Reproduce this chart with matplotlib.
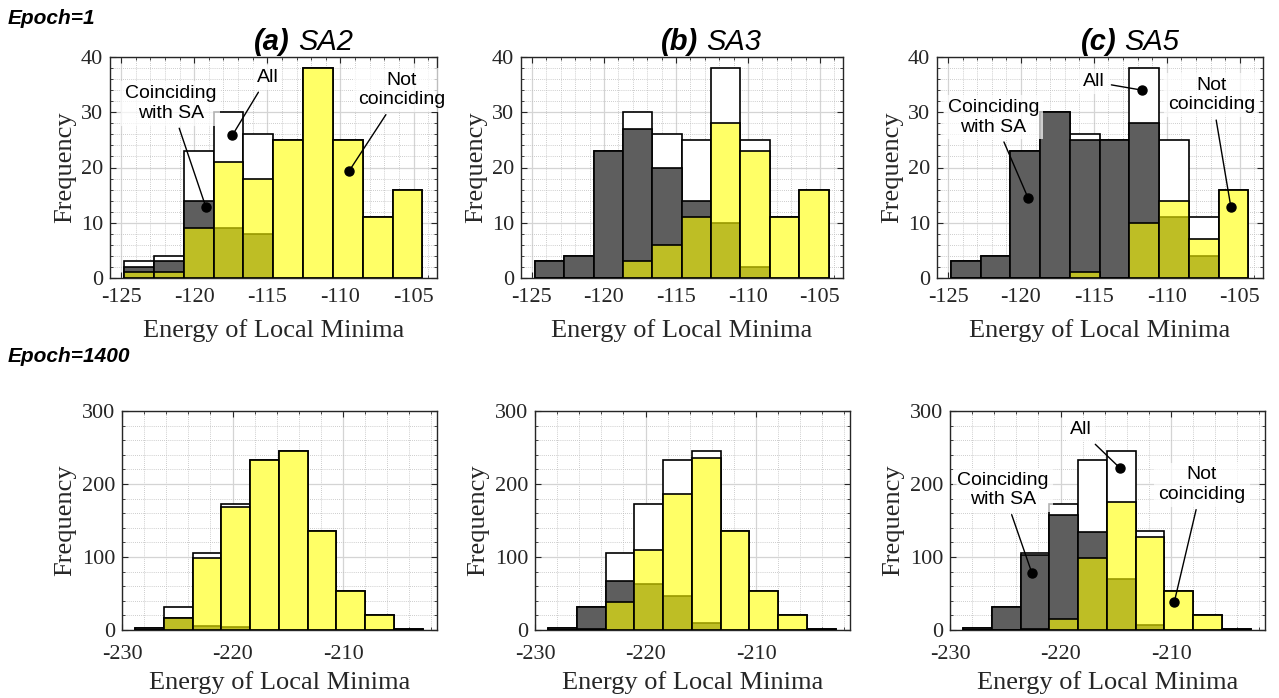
import numpy as np
import matplotlib.pyplot as plt
from matplotlib.ticker import MultipleLocator

plt.rcParams['axes.unicode_minus'] = False

# bin edges of the two epochs
edges_e1 = [-124.8, -122.76, -120.72, -118.68, -116.64, -114.6, -112.56, -110.52, -108.48, -106.44, -104.4]
edges_e1400 = [-228.8, -226.2, -223.6, -221.0, -218.4, -215.8, -213.2, -210.6, -208.0, -205.4, -202.8]

# Epoch=1 : all local minima, coinciding with SA, not coinciding
all_e1 = [3, 4, 23, 30, 26, 25, 38, 25, 11, 16]
coin_e1_sa2 = [2, 3, 14, 9, 8, 0, 0, 0, 0, 0]
not_e1_sa2 = [1, 1, 9, 21, 18, 25, 38, 25, 11, 16]
coin_e1_sa3 = [3, 4, 23, 27, 20, 14, 10, 2, 0, 0]
not_e1_sa3 = [0, 0, 0, 3, 6, 11, 28, 23, 11, 16]
coin_e1_sa5 = [3, 4, 23, 30, 25, 25, 28, 11, 4, 0]
not_e1_sa5 = [0, 0, 0, 0, 1, 0, 10, 14, 7, 16]

# Epoch=1400
all_e1400 = [3, 32, 105, 172, 233, 245, 135, 54, 21, 2]
coin_e1400_sa2 = [3, 16, 6, 4, 0, 0, 0, 0, 0, 0]
not_e1400_sa2 = [0, 16, 99, 168, 233, 245, 135, 54, 21, 2]
coin_e1400_sa3 = [3, 31, 67, 63, 47, 10, 0, 0, 0, 0]
not_e1400_sa3 = [0, 1, 38, 109, 186, 235, 135, 54, 21, 2]
coin_e1400_sa5 = [3, 32, 103, 157, 134, 70, 7, 0, 0, 0]
not_e1400_sa5 = [0, 0, 2, 15, 99, 175, 128, 54, 21, 2]

panel_tags = ['(a)', '(b)', '(c)']
panel_names = ['SA2', 'SA3', 'SA5']

SERIF = 'Liberation Serif'
SANS = 'Liberation Sans'

fig = plt.figure(figsize=(12.79, 6.98), dpi=100)
W, H = 1279, 698


def add_ax(l, t, w, h):
    return fig.add_axes([l / W, 1 - (t + h) / H, w / W, h / H])


def hist3(ax, edges, total, coin, notc):
    edges = np.array(edges)
    left = edges[:-1]
    w = np.diff(edges)
    ax.bar(left, total, width=w, align='edge', color='white', edgecolor='black', lw=1.2, zorder=2)
    ax.bar(left, coin, width=w, align='edge', color='#5e5e5e', edgecolor='black', lw=1.2, zorder=3)
    ax.bar(left, notc, width=w, align='edge', color=(1, 1, 0, 0.6), edgecolor='black', lw=1.2, zorder=4)


def style(ax, xlim, ylim, xmaj, xmin, ymaj, ymin, xpad, xlpad, ylpad):
    ax.set_xlim(*xlim)
    ax.set_ylim(*ylim)
    ax.xaxis.set_major_locator(MultipleLocator(xmaj))
    ax.xaxis.set_minor_locator(MultipleLocator(xmin))
    ax.yaxis.set_major_locator(MultipleLocator(ymaj))
    ax.yaxis.set_minor_locator(MultipleLocator(ymin))
    ax.set_axisbelow(True)
    ax.grid(True, which='major', color='#d4d4d4', lw=0.9, ls='-')
    ax.grid(True, which='minor', color='#bdbdbd', lw=0.6, ls=(0, (1, 1.5)))
    ax.tick_params(which='both', direction='in', top=True, right=True, colors='#262626',
                   labelsize=16)
    ax.tick_params(which='major', length=4, pad=5)
    ax.tick_params(axis='x', which='major', pad=xpad)
    ax.tick_params(which='minor', length=2)
    for lab in ax.get_xticklabels() + ax.get_yticklabels():
        lab.set_family(SERIF)
    for s in ax.spines.values():
        s.set_color('#262626')
        s.set_linewidth(1.0)
    ax.set_xlabel('Energy of Local Minima', family=SERIF, fontsize=19, color='#262626',
                  labelpad=xlpad)
    ax.set_ylabel('Frequency', family=SERIF, fontsize=19, color='#262626', labelpad=ylpad)


def note(ax, text, xy, xytext):
    ax.annotate(text, xy=xy, xytext=xytext, ha='center', va='center', fontsize=14,
                family=SANS, zorder=6,
                bbox=dict(boxstyle='square,pad=0.2', fc='white', ec='none', alpha=0.7),
                arrowprops=dict(arrowstyle='-', color='black', lw=1.0, shrinkA=2, shrinkB=0))
    ax.plot(xy[0], xy[1], 'o', color='black', ms=6.5, zorder=7)


top_lefts = [110, 521, 937]
top_widths = [327, 322, 326]
bot_lefts = [122, 535, 950]

coin_e1 = [coin_e1_sa2, coin_e1_sa3, coin_e1_sa5]
not_e1 = [not_e1_sa2, not_e1_sa3, not_e1_sa5]
coin_e1400 = [coin_e1400_sa2, coin_e1400_sa3, coin_e1400_sa5]
not_e1400 = [not_e1400_sa2, not_e1400_sa3, not_e1400_sa5]

top_axes, bot_axes = [], []
for i in range(3):
    ax = add_ax(top_lefts[i], 57, top_widths[i], 221)
    hist3(ax, edges_e1, all_e1, coin_e1[i], not_e1[i])
    style(ax, (-125.76, -103.4), (0, 40), 5, 1, 10, 2, 7, 9, 3)
    ax.text(0.55, 1.03, panel_tags[i], transform=ax.transAxes, ha='right', va='baseline',
            fontsize=21, family=SANS, fontweight='bold', fontstyle='italic')
    ax.text(0.575, 1.03, panel_names[i], transform=ax.transAxes, ha='left', va='baseline',
            fontsize=21, family=SANS, fontstyle='italic')
    top_axes.append(ax)

    ax = add_ax(bot_lefts[i], 411, 315, 219)
    hist3(ax, edges_e1400, all_e1400, coin_e1400[i], not_e1400[i])
    style(ax, (-230, -201.5), (0, 300), 10, 2, 100, 20, 11, 5, 4)
    bot_axes.append(ax)

# callouts
ax = top_axes[0]
note(ax, 'Coinciding\nwith SA', (-119.2, 12.8), (-121.6, 31.6))
note(ax, 'All', (-117.4, 25.8), (-115.0, 36.3))
note(ax, 'Not\ncoinciding', (-109.4, 19.4), (-105.8, 34.0))

ax = top_axes[2]
note(ax, 'Coinciding\nwith SA', (-119.5, 14.4), (-121.9, 29.1))
note(ax, 'All', (-111.7, 34.0), (-115.0, 35.5))
note(ax, 'Not\ncoinciding', (-105.6, 12.8), (-106.9, 33.1))

ax = bot_axes[2]
note(ax, 'Coinciding\nwith SA', (-222.6, 78.5), (-225.2, 192))
note(ax, 'All', (-214.6, 221.5), (-218.2, 274))
note(ax, 'Not\ncoinciding', (-209.7, 38.8), (-207.2, 199))

fig.text(8 / W, 1 - 18 / H, 'Epoch=1', family=SANS, fontsize=15, fontweight='bold',
         fontstyle='italic', va='center', ha='left')
fig.text(8 / W, 1 - 357 / H, 'Epoch=1400', family=SANS, fontsize=15, fontweight='bold',
         fontstyle='italic', va='center', ha='left')

fig.savefig('out.png', dpi=100)
